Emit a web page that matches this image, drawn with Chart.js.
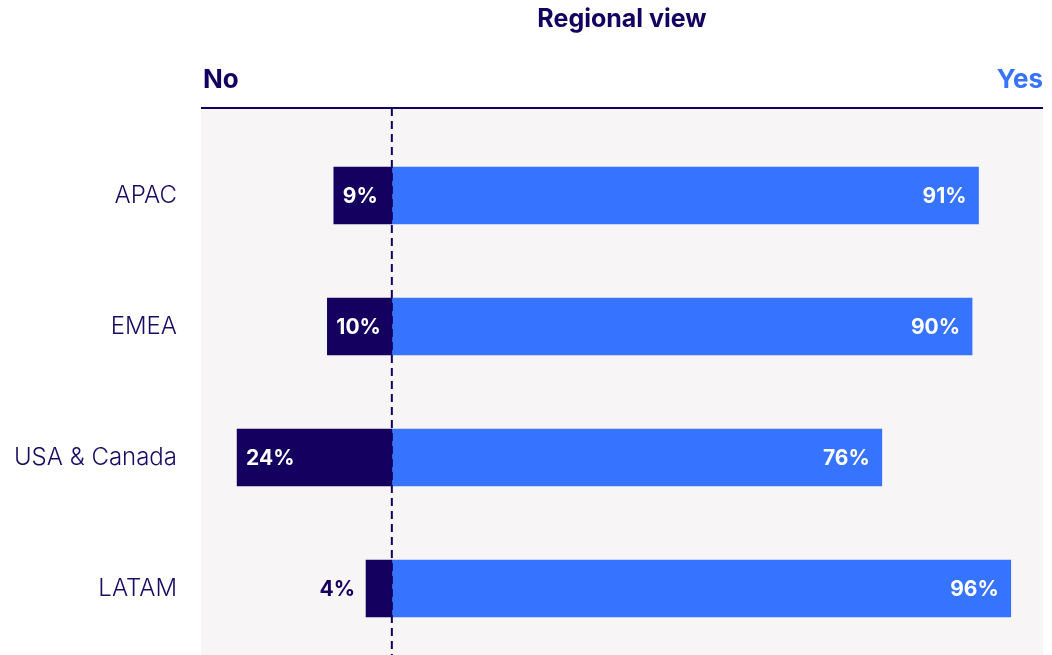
<!DOCTYPE html>
<html lang="en">

<head>
    <meta charset="UTF-8">
    <title>Regional view</title>
    <style>
        html, body { margin: 0; padding: 0; background: #fff; overflow: hidden; }
        #wrap { width: 1052px; height: 655px; }
    </style>
</head>

<body>
    <div id="wrap"><canvas id="regionChart" width="1052" height="655"></canvas></div>
</body>
<script src="https://cdn.jsdelivr.net/npm/chart.js@4.4.0/dist/chart.umd.min.js"></script>
<script>
    const regions = ['APAC', 'EMEA', 'USA & Canada', 'LATAM']
    const noShare = [9, 10, 24, 4]
    const yesShare = [91, 90, 76, 96]

    const NAVY = '#14005f'
    const BLUE = '#3674ff'
    const FONT = 'Inter, "DejaVu Sans", sans-serif'

    // header above the plot: title, No / Yes captions and the rule line
    const headerPlugin = {
        id: 'header',
        beforeDraw(chart) {
            const { ctx, chartArea: a } = chart
            const lineY = a.top - 22
            ctx.save()
            ctx.fillStyle = '#f7f5f6'
            ctx.fillRect(a.left, lineY, a.right - a.left, chart.height - lineY)

            ctx.strokeStyle = NAVY
            ctx.lineWidth = 2
            ctx.beginPath()
            ctx.moveTo(a.left, lineY)
            ctx.lineTo(a.right, lineY)
            ctx.stroke()

            ctx.textBaseline = 'alphabetic'
            ctx.font = `700 25px ${FONT}`
            ctx.fillStyle = NAVY
            ctx.textAlign = 'center'
            ctx.fillText('Regional view', (a.left + a.right) / 2, 27)

            ctx.font = `700 26px ${FONT}`
            ctx.textAlign = 'left'
            ctx.fillText('No', a.left + 2, 88)
            ctx.fillStyle = BLUE
            ctx.textAlign = 'right'
            ctx.fillText('Yes', a.right, 88)
            ctx.restore()
        },
        afterDatasetsDraw(chart) {
            // dashed zero line, drawn over the bars
            const { ctx, chartArea: a, scales } = chart
            const x0 = scales.x.getPixelForValue(0)
            ctx.save()
            ctx.strokeStyle = NAVY
            ctx.lineWidth = 2
            ctx.setLineDash([8, 5])
            ctx.beginPath()
            ctx.moveTo(x0, a.top - 22)
            ctx.lineTo(x0, chart.height)
            ctx.stroke()
            ctx.restore()
        }
    }

    // percentage labels at the outer end of each bar
    const valueLabels = {
        id: 'valueLabels',
        afterDatasetsDraw(chart) {
            const { ctx } = chart
            ctx.save()
            ctx.font = `700 21px ${FONT}`
            ctx.textBaseline = 'middle'
            chart.data.datasets.forEach((ds, di) => {
                chart.getDatasetMeta(di).data.forEach((bar, i) => {
                    const text = Math.abs(ds.data[i]) + '%'
                    const w = ctx.measureText(text).width
                    const len = Math.abs(bar.x - bar.base)
                    if (di === 0) {
                        if (w + 14 <= len) {
                            ctx.fillStyle = '#fff'
                            ctx.textAlign = 'left'
                            ctx.fillText(text, bar.x + 9, bar.y + 1)
                        } else {
                            // too short: put it outside, left of the bar
                            ctx.fillStyle = NAVY
                            ctx.textAlign = 'right'
                            ctx.fillText(text, bar.x - 11, bar.y + 1)
                        }
                    } else {
                        ctx.fillStyle = '#fff'
                        ctx.textAlign = 'right'
                        ctx.fillText(text, bar.x - 12, bar.y + 1)
                    }
                })
            })
            ctx.restore()
        }
    }

    new Chart(document.getElementById('regionChart'), {
        type: 'bar',
        data: {
            labels: regions,
            datasets: [{
                label: 'No',
                data: noShare.map(v => -v),
                backgroundColor: NAVY,
                barThickness: 57
            }, {
                label: 'Yes',
                data: yesShare,
                backgroundColor: BLUE,
                barThickness: 57
            }]
        },
        options: {
            indexAxis: 'y',
            responsive: false,
            animation: false,
            layout: { padding: { top: 130, right: 9, bottom: 1, left: 0 } },
            plugins: {
                legend: { display: false },
                tooltip: { enabled: false }
            },
            scales: {
                x: {
                    stacked: true,
                    min: -29.6,
                    max: 101,
                    display: false
                },
                y: {
                    stacked: true,
                    grid: { display: false, drawTicks: false },
                    border: { display: false },
                    ticks: {
                        color: '#1b0c62',
                        padding: 24,
                        font: { family: FONT, size: 24, weight: 300 }
                    },
                    afterFit(scale) {
                        scale.width = 201
                        // tick padding would otherwise eat into the plot height
                        scale.paddingTop = 0
                        scale.paddingBottom = 0
                    }
                }
            }
        },
        plugins: [headerPlugin, valueLabels]
    })
</script>

</html>
